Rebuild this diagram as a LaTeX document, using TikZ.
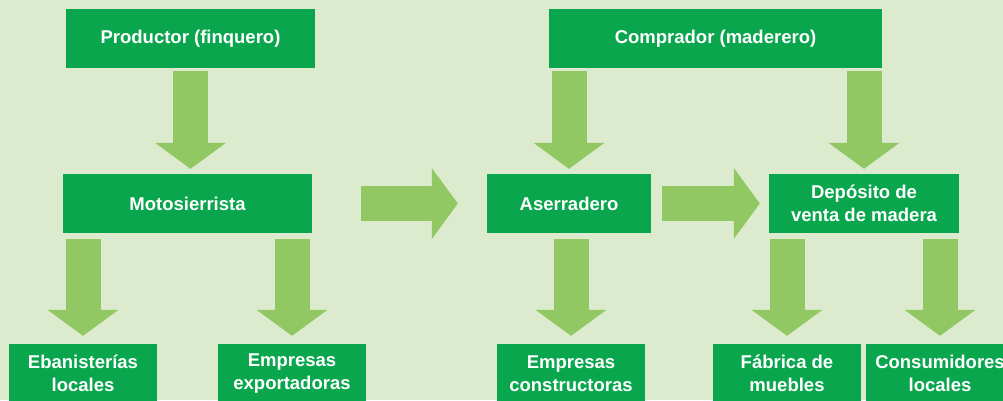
\documentclass[tikz,border=0pt]{standalone}
\usepackage{fontspec}
\setsansfont{Liberation Sans}
\usetikzlibrary{arrows.meta}

\definecolor{bgGreen}{RGB}{220,235,205}
\definecolor{boxGreen}{RGB}{9,166,78}
\definecolor{arrowGreen}{RGB}{146,200,100}

\tikzset{
    actor/.style={fill=boxGreen, text=white, align=center, inner sep=0pt,
        minimum height=59pt, font=\sffamily\bfseries\fontsize{18.5}{23.5}\selectfont},
    flow/.style={draw=arrowGreen, line width=35pt,
        -{Triangle[width=71pt, length=26pt, line width=0pt]}}
}

\begin{document}
\begin{tikzpicture}[x=1pt, y=-1pt]
    % canvas
    \useasboundingbox (0,0) rectangle (1003,400);
    \clip (0,0) rectangle (1003,400);
    \fill[bgGreen] (0,0) rectangle (1003,400);

    % top row
    \node[actor, minimum width=249pt] (prod) at (190.5,38.5) {Productor (finquero)};
    \node[actor, minimum width=333pt] (comp) at (715.5,38.5) {Comprador (maderero)};

    % middle row
    \node[actor, minimum width=249pt] (moto) at (187.5,203.5) {Motosierrista};
    \node[actor, minimum width=164pt] (aser) at (569,203.5) {Aserradero};
    \node[actor, minimum width=190pt] (dep) at (864,203.5) {Depósito de\\venta de madera};

    % bottom row
    \foreach \name/\x/\txt in {eban/83/Ebanisterías\\locales, expo/292/Empresas\\exportadoras,
        cons/571/Empresas\\constructoras, fab/787/Fábrica de\\muebles, consum/940/Consumidores\\locales} {
        \node[actor, minimum width=148pt] (\name) at (\x,373.5) {\txt};
    }

    % block arrows
    \draw[flow, shorten <=3pt, shorten >=5pt] (prod.south) -- (prod.south |- moto.north);
    \draw[flow, shorten <=3pt, shorten >=5pt] (comp.south -| aser.north) -- (aser.north);
    \draw[flow, shorten <=3pt, shorten >=5pt] (comp.south -| dep.north) -- (dep.north);
    \draw[flow, shorten <=49pt, shorten >=29pt] (moto.east) -- (aser.west);
    \draw[flow, shorten <=11pt, shorten >=9pt] (aser.east) -- (dep.west);
    \foreach \from/\to in {moto/eban, moto/expo, aser/cons, dep/fab, dep/consum} {
        \draw[flow, shorten <=6pt, shorten >=8pt] (\from.south -| \to.north) -- (\to.north);
    }
\end{tikzpicture}
\end{document}
